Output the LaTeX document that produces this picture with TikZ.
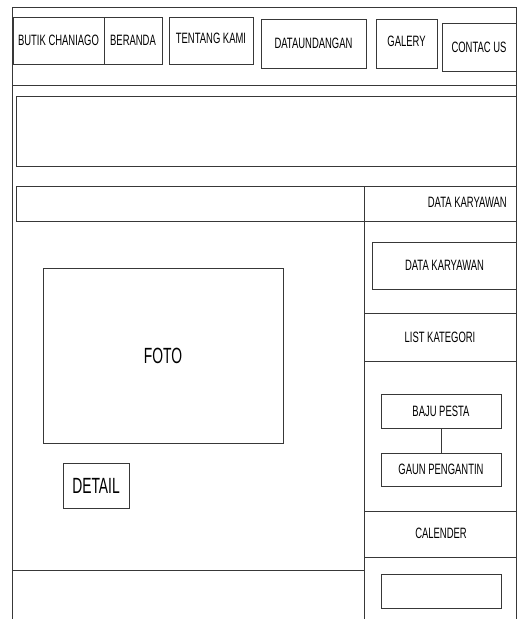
\documentclass[tikz,border=0pt]{standalone}
\usepackage{fontspec}
\setmainfont{Liberation Sans}[FakeStretch=0.63]
\begin{document}
\begin{tikzpicture}[x=1pt,y=-1pt,
  ln/.style={draw=black!78,line width=0.9pt},
  box/.style={ln,rectangle,inner sep=0pt,font=\fontsize{15}{17}\selectfont},
  lbl/.style={inner sep=0pt,font=\fontsize{15}{17}\selectfont}]
\useasboundingbox (0,0) rectangle (517,619);
% outer frame and layout lines
\draw[ln] (12,619) -- (12,7) -- (516,7) -- (516,619);
\draw[ln] (12,85) -- (516,85);
\draw[ln] (16,96) rectangle (516,166);
\draw[ln] (16,186) rectangle (516,221);
\draw[ln] (364,186) -- (364,619);
\draw[ln] (364,313) -- (516,313);
\draw[ln] (364,361) -- (516,361);
\draw[ln] (364,511) -- (516,511);
\draw[ln] (364,557) -- (516,557);
\draw[ln] (12,570) -- (364,570);
% navigation
\node[box,minimum width=91,minimum height=47] (butik) at (58.5,40.5) {BUTIK CHANIAGO};
\node[box,minimum width=58,minimum height=47] (beranda) at (133,40.5) {BERANDA};
\node[box,minimum width=84,minimum height=47,text depth=5pt] (tentang) at (211,40.5) {TENTANG KAMI};
\node[box,minimum width=105,minimum height=49] (undangan) at (313.5,43.5) {DATAUNDANGAN};
\node[box,minimum width=61,minimum height=49,text depth=4pt] (galery) at (406.5,43.5) {GALERY};
\node[box,minimum width=74,minimum height=48] (contac) at (479,47) {CONTAC US};
% title bar
\node[lbl,anchor=east] (dk1) at (507,202) {DATA KARYAWAN};
% right column
\node[box,minimum width=145,minimum height=47] (dk2) at (444.5,265.5) {DATA KARYAWAN};
\node[lbl] (list) at (440,337) {LIST KATEGORI};
\node[box,minimum width=120,minimum height=34] (baju) at (441,411) {BAJU PESTA};
\node[box,minimum width=120,minimum height=33] (gaun) at (441,469.5) {GAUN PENGANTIN};
\draw[ln] (baju) -- (gaun);
\node[lbl] (cal) at (441,533) {CALENDER};
\node[box,minimum width=120,minimum height=34] (calbox) at (441,591) {};
% left content
\node[box,minimum width=240,minimum height=175,font=\fontsize{22}{24}\selectfont] (foto) at (163,355.5) {FOTO};
\node[box,minimum width=66,minimum height=45,font=\fontsize{22}{24}\selectfont] (detail) at (96,485.5) {DETAIL};
\end{tikzpicture}
\end{document}
